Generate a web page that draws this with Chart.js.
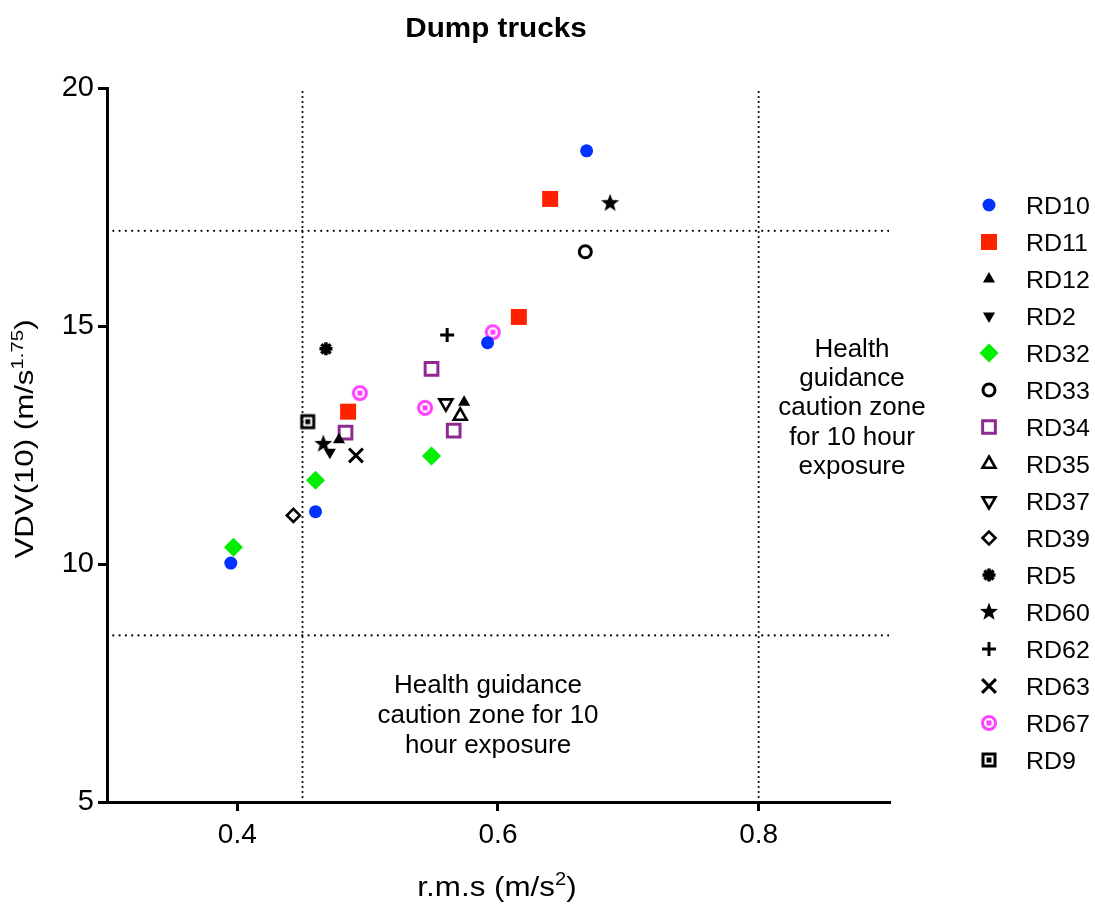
<!DOCTYPE html>
<html>
<head>
<meta charset="utf-8">
<script src="https://cdn.jsdelivr.net/npm/chart.js"></script>
<style>
  html, body { margin: 0; padding: 0; background: #fff; }
  #wrap { width: 1095px; height: 911px; }
</style>
</head>
<body>
<div id="wrap"><canvas id="chart" width="1095" height="911"></canvas></div>
<script>
const FONT = "'Liberation Sans', Arial, Helvetica, sans-serif";

const chartTitle = "Dump trucks";
const xTicks = [0.4, 0.6, 0.8];
const yTicks = [5, 10, 15, 20];
const xRange = [0.3, 0.9];
const yRange = [5, 20];
const vLines = [0.45, 0.8];
const hLines = [8.5, 17];
const zoneRight = ["Health", "guidance", "caution zone", "for 10 hour", "exposure"];
const zoneBottom = ["Health guidance", "caution zone for 10", "hour exposure"];

// [r.m.s, VDV(10)] for each truck
const RD10 = [[0.668, 18.68], [0.592, 14.65], [0.460, 11.10], [0.395, 10.02]];
const RD11 = [[0.640, 17.67], [0.616, 15.19], [0.485, 13.20]];
const RD12 = [[0.478, 12.61], [0.574, 13.40]];
const RD2 = [[0.471, 12.35]];
const RD32 = [[0.460, 11.76], [0.397, 10.35], [0.549, 12.27]];
const RD33 = [[0.667, 16.56]];
const RD34 = [[0.483, 12.76], [0.549, 14.10], [0.566, 12.80]];
const RD35 = [[0.571, 13.11]];
const RD37 = [[0.560, 13.38]];
const RD39 = [[0.443, 11.02]];
const RD5 = [[0.468, 14.52]];
const RD60 = [[0.466, 12.52], [0.686, 17.58]];
const RD62 = [[0.561, 14.81]];
const RD63 = [[0.491, 12.28]];
const RD67 = [[0.494, 13.59], [0.544, 13.28], [0.596, 14.87]];
const RD9 = [[0.454, 12.99]];

const BLUE = '#0033ff';
const RED = '#ff2200';
const GREEN = '#00ee00';
const PURPLE = '#8f2a8f';
const MAGENTA = '#ff40ff';
const BLACK = '#000000';
const NONE = 'rgba(0,0,0,0)';

function marker(size, paint) {
  const c = document.createElement('canvas');
  c.width = size;
  c.height = size;
  paint(c.getContext('2d'), size / 2);
  return c;
}

const starMark = marker(22, (ctx, m) => {
  ctx.beginPath();
  for (let i = 0; i < 10; i++) {
    const r = i % 2 ? 3.9 : 9.5;
    const a = -Math.PI / 2 + i * Math.PI / 5;
    ctx.lineTo(m + r * Math.cos(a), m + r * Math.sin(a));
  }
  ctx.closePath();
  ctx.fillStyle = BLACK;
  ctx.fill();
});

const ringMark = marker(20, (ctx, m) => {
  ctx.strokeStyle = MAGENTA;
  ctx.lineWidth = 3;
  ctx.beginPath();
  ctx.arc(m, m, 6.5, 0, Math.PI * 2);
  ctx.stroke();
  ctx.fillStyle = MAGENTA;
  ctx.fillRect(m - 2.5, m - 2.5, 5, 5);
});

const boxMark = marker(20, (ctx, m) => {
  ctx.strokeStyle = BLACK;
  ctx.lineWidth = 3;
  ctx.strokeRect(m - 6, m - 6, 12, 12);
  ctx.fillStyle = BLACK;
  ctx.fillRect(m - 2.5, m - 2.5, 5, 5);
});

const series = [
  { name: 'RD10', data: RD10, style: 'circle', radius: 6.5, fill: BLUE, line: BLUE, width: 0 },
  { name: 'RD11', data: RD11, style: 'rect', radius: 11.3, fill: RED, line: RED, width: 0 },
  { name: 'RD12', data: RD12, style: 'triangle', radius: 7, fill: BLACK, line: BLACK, width: 0 },
  { name: 'RD2', data: RD2, style: 'triangle', rotation: 180, radius: 7, fill: BLACK, line: BLACK, width: 0 },
  { name: 'RD32', data: RD32, style: 'rectRot', radius: 9.5, fill: GREEN, line: GREEN, width: 0 },
  { name: 'RD33', data: RD33, style: 'circle', radius: 6, fill: '#fff', line: BLACK, width: 3 },
  { name: 'RD34', data: RD34, style: 'rect', radius: 9, fill: NONE, line: PURPLE, width: 3 },
  { name: 'RD35', data: RD35, style: 'triangle', radius: 7.5, fill: NONE, line: BLACK, width: 2.6 },
  { name: 'RD37', data: RD37, style: 'triangle', rotation: 180, radius: 7.5, fill: NONE, line: BLACK, width: 2.6 },
  { name: 'RD39', data: RD39, style: 'rectRot', radius: 6.5, fill: NONE, line: BLACK, width: 2.6 },
  { name: 'RD5', data: RD5, style: 'star', radius: 6.5, fill: BLACK, line: BLACK, width: 3.5 },
  { name: 'RD60', data: RD60, style: starMark, radius: 9, fill: BLACK, line: BLACK, width: 0 },
  { name: 'RD62', data: RD62, style: 'cross', radius: 7, fill: BLACK, line: BLACK, width: 3 },
  { name: 'RD63', data: RD63, style: 'crossRot', radius: 9.8, fill: BLACK, line: BLACK, width: 3 },
  { name: 'RD67', data: RD67, style: ringMark, radius: 8, fill: MAGENTA, line: MAGENTA, width: 0 },
  { name: 'RD9', data: RD9, style: boxMark, radius: 8, fill: BLACK, line: BLACK, width: 0 }
];

const pointSets = series.map(s => ({
  label: s.name,
  data: s.data.map(p => ({ x: p[0], y: p[1] })),
  pointStyle: s.style,
  pointRadius: s.radius,
  pointRotation: s.rotation || 0,
  pointBackgroundColor: s.fill,
  pointBorderColor: s.line,
  pointBorderWidth: s.width,
  order: 1
}));

const dotted = (pts, gap) => ({
  type: 'line',
  label: '',
  data: pts,
  showLine: true,
  borderColor: BLACK,
  borderWidth: 2.2,
  borderDash: [0, gap],
  borderCapStyle: 'round',
  pointRadius: 0,
  fill: false,
  order: 5
});

const refSets = [
  ...vLines.map(v => dotted([{ x: v, y: yRange[0] }, { x: v, y: yRange[1] }], 5)),
  ...hLines.map(h => dotted([{ x: xRange[0], y: h }, { x: xRange[1], y: h }], 6.3))
];

// text with optional superscript parts, centred on (0, 0) baseline
function drawRich(ctx, parts, size, sx) {
  const sup = Math.round(size * 0.65);
  let w = 0;
  parts.forEach(p => {
    ctx.font = (p.sup ? sup : size) + 'px ' + FONT;
    w += ctx.measureText(p.t).width;
  });
  ctx.save();
  ctx.scale(sx, 1);
  ctx.textAlign = 'left';
  ctx.textBaseline = 'alphabetic';
  ctx.fillStyle = BLACK;
  let x = -w / 2;
  parts.forEach(p => {
    ctx.font = (p.sup ? sup : size) + 'px ' + FONT;
    ctx.fillText(p.t, x, p.sup ? -size * 0.4 : 0);
    x += ctx.measureText(p.t).width;
  });
  ctx.restore();
}

function centred(ctx, text, x, y, font, sx) {
  ctx.save();
  ctx.translate(x, y);
  ctx.scale(sx, 1);
  ctx.font = font;
  ctx.textAlign = 'center';
  ctx.textBaseline = 'alphabetic';
  ctx.fillStyle = BLACK;
  ctx.fillText(text, 0, 0);
  ctx.restore();
}

const textPlugin = {
  id: 'texts',
  afterDraw(chart) {
    const ctx = chart.ctx;
    centred(ctx, chartTitle, 496, 37, 'bold 27px ' + FONT, 1.1);

    ctx.save();
    ctx.translate(497, 896);
    drawRich(ctx, [{ t: 'r.m.s (m/s' }, { t: '2', sup: true }, { t: ')' }], 28, 1.12);
    ctx.restore();

    ctx.save();
    ctx.translate(33, 439);
    ctx.rotate(-Math.PI / 2);
    drawRich(ctx, [{ t: 'VDV(10) (m/s' }, { t: '1.75', sup: true }, { t: ')' }], 26, 1.2);
    ctx.restore();

    zoneRight.forEach((t, i) => centred(ctx, t, 852, 357 + i * 29.2, '25px ' + FONT, 1.04));
    zoneBottom.forEach((t, i) => centred(ctx, t, 488, 693 + i * 30, '25px ' + FONT, 1.04));

    // legend
    series.forEach((s, i) => {
      const y = 205 + i * 37;
      ctx.save();
      ctx.fillStyle = s.fill;
      ctx.strokeStyle = s.line;
      ctx.lineWidth = s.width;
      Chart.helpers.drawPoint(ctx, {
        pointStyle: s.style,
        radius: s.radius,
        rotation: s.rotation || 0,
        borderWidth: s.width
      }, 989, y);
      ctx.restore();
      ctx.save();
      ctx.translate(1026, y + 8.6);
      ctx.scale(1.04, 1);
      ctx.font = '24px ' + FONT;
      ctx.fillStyle = BLACK;
      ctx.textAlign = 'left';
      ctx.fillText(s.name, 0, 0);
      ctx.restore();
    });
  }
};

const axisGrid = {
  drawOnChartArea: false,
  drawTicks: true,
  tickLength: 9,
  tickWidth: 3,
  tickColor: BLACK,
  color: BLACK,
  lineWidth: 3
};

new Chart(document.getElementById('chart'), {
  type: 'scatter',
  data: { datasets: [...refSets, ...pointSets] },
  options: {
    responsive: false,
    animation: false,
    events: [],
    layout: { padding: { top: 88, right: 206, left: 0, bottom: 0 } },
    plugins: {
      legend: { display: false },
      tooltip: { enabled: false },
      title: { display: false }
    },
    scales: {
      x: {
        type: 'linear',
        min: xRange[0],
        max: xRange[1],
        afterBuildTicks: s => { s.ticks = xTicks.map(v => ({ value: v })); },
        afterFit: s => { s.height = 109; },
        grid: axisGrid,
        border: { display: true, color: BLACK, width: 3 },
        ticks: { color: BLACK, padding: 7, maxRotation: 0, font: { family: FONT, size: 28 } }
      },
      y: {
        type: 'linear',
        min: yRange[0],
        max: yRange[1],
        afterBuildTicks: s => { s.ticks = yTicks.map(v => ({ value: v })); },
        afterFit: s => { s.width = 107; },
        grid: axisGrid,
        border: { display: true, color: BLACK, width: 3 },
        ticks: { color: BLACK, padding: 4, font: { family: FONT, size: 29 } }
      }
    }
  },
  plugins: [textPlugin]
});
</script>
</body>
</html>
